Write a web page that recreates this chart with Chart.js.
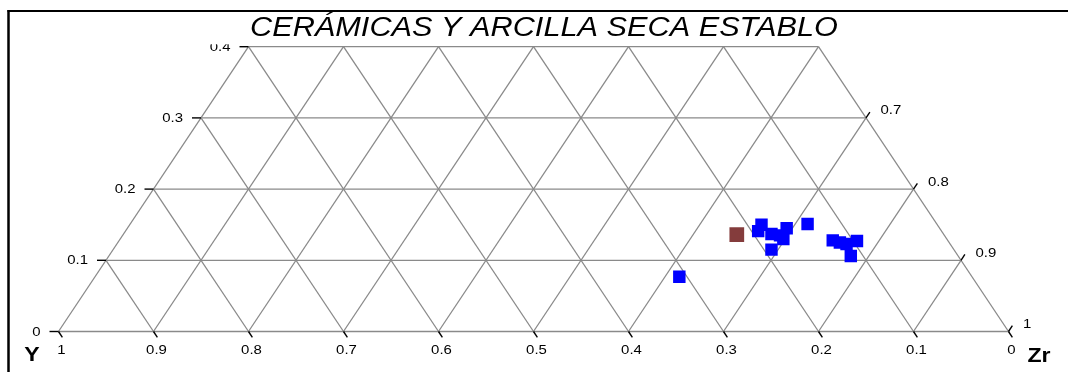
<!DOCTYPE html>
<html>
<head>
<meta charset="utf-8">
<script src="https://cdn.jsdelivr.net/npm/chart.js@4/dist/chart.umd.min.js"></script>
<style>
  html, body { margin: 0; padding: 0; background: #ffffff; }
  #wrap { width: 1068px; height: 372px; position: relative; }
</style>
</head>
<body>
<div id="wrap"><canvas id="c" width="1068" height="372"></canvas></div>
<script>
// Ternary diagram Y – Zr – (apex component), upper part truncated at 0.4
const chartTitle = 'CERÁMICAS Y ARCILLA SECA ESTABLO';
const gridSteps = [0, 0.1, 0.2, 0.3, 0.4, 0.5, 0.6, 0.7, 0.8, 0.9, 1];
const apexLevels = [0, 0.1, 0.2, 0.3, 0.4];
const leftTickLabels = ['0', '0.1', '0.2', '0.3', '0.4'];
const bottomTickLabels = ['1', '0.9', '0.8', '0.7', '0.6', '0.5', '0.4', '0.3', '0.2', '0.1', '0'];
const rightLevels = [0, 0.1, 0.2, 0.3];
const rightTickLabels = ['1', '0.9', '0.8', '0.7'];
const cornerLabels = ['Y', 'Zr'];

// Sample compositions (fractions)
const sampleY    = [0.308, 0.185, 0.193, 0.181, 0.173, 0.161, 0.172, 0.192, 0.136, 0.121, 0.115, 0.109, 0.096, 0.113];
const sampleZr   = [0.615, 0.665, 0.666, 0.682, 0.692, 0.694, 0.698, 0.693, 0.713, 0.751, 0.760, 0.768, 0.777, 0.781];
const sampleApex = [0.077, 0.150, 0.141, 0.137, 0.135, 0.145, 0.130, 0.115, 0.151, 0.128, 0.125, 0.123, 0.127, 0.106];

// Reference composition
const refY    = [0.218];
const refZr   = [0.646];
const refApex = [0.136];

// ternary -> cartesian (x along base, y = apex fraction)
function toCart(zr, apex) { return { x: zr + apex / 2, y: apex }; }
const samplePoints = sampleZr.map((z, i) => toCart(z, sampleApex[i]));
const refPoints = refZr.map((z, i) => toCart(z, refApex[i]));

const FONT = "Arial, 'Liberation Sans', sans-serif";
const TEXT_STRETCH = 1.15; // text in this figure is drawn slightly wide

// draw text widened horizontally around its anchor
function wideText(ctx, text, x, y, align, sx) {
  ctx.save();
  ctx.translate(x, y);
  ctx.scale(sx, 1);
  ctx.textAlign = align;
  ctx.fillText(text, 0, 0);
  ctx.restore();
}

const ternaryGrid = {
  id: 'ternaryGrid',
  beforeDatasetsDraw(chart) {
    const { ctx, scales: { x, y } } = chart;
    const P = (cx, cy) => [x.getPixelForValue(cx), y.getPixelForValue(cy)];
    const seg = (a, b) => { ctx.beginPath(); ctx.moveTo(a[0], a[1]); ctx.lineTo(b[0], b[1]); ctx.stroke(); };
    const top = apexLevels[apexLevels.length - 1];

    ctx.save();
    ctx.strokeStyle = '#8a8a8a';
    ctx.lineWidth = 1.3;
    // lines of constant apex fraction
    apexLevels.forEach(t => seg(P(t / 2, t), P(1 - t / 2, t)));
    // lines of constant Zr
    gridSteps.forEach(z => {
      const tEnd = Math.min(top, 1 - z);
      if (tEnd <= 0) return;
      seg(P(z, 0), P(z + tEnd / 2, tEnd));
    });
    // lines of constant Y
    gridSteps.forEach(v => {
      const tEnd = Math.min(top, 1 - v);
      if (tEnd <= 0) return;
      seg(P(1 - v, 0), P(1 - v - tEnd / 2, tEnd));
    });

    // ticks and labels
    ctx.strokeStyle = '#000000';
    ctx.lineWidth = 1.4;
    ctx.fillStyle = '#000000';
    ctx.font = '13px ' + FONT;
    ctx.textBaseline = 'middle';

    // left side
    apexLevels.forEach((t, i) => {
      const p = P(t / 2, t);
      seg([p[0] - 9, p[1]], p);
      wideText(ctx, leftTickLabels[i], p[0] - 18, p[1] + 0.5, 'right', TEXT_STRETCH);
    });

    // base: direction of the constant-Y lines, pointing below the base
    const cy0 = P(1, 0), cy1 = P(1 - 0.05, 0.1);
    let vx = cy0[0] - cy1[0], vy = cy0[1] - cy1[1];
    const vl = Math.hypot(vx, vy); vx /= vl; vy /= vl;
    gridSteps.forEach((z, i) => {
      const p = P(z, 0);
      seg(p, [p[0] + vx * 7, p[1] + vy * 7]);
      wideText(ctx, bottomTickLabels[i], p[0] + 3, p[1] + 19, 'center', TEXT_STRETCH);
    });

    // right side: direction of the constant-Zr lines beyond the edge
    const cz0 = P(0, 0), cz1 = P(0.05, 0.1);
    let wx = cz1[0] - cz0[0], wy = cz1[1] - cz0[1];
    const wl = Math.hypot(wx, wy); wx /= wl; wy /= wl;
    rightLevels.forEach((t, i) => {
      const p = P(1 - t / 2, t);
      seg(p, [p[0] + wx * 7, p[1] + wy * 7]);
      wideText(ctx, rightTickLabels[i], p[0] + 14.5, p[1] - 7, 'left', TEXT_STRETCH);
    });

    // corner names
    ctx.font = 'bold 21px ' + FONT;
    ctx.textBaseline = 'alphabetic';
    wideText(ctx, cornerLabels[0], 32, 361, 'center', 1.1);
    wideText(ctx, cornerLabels[1], 1039, 362, 'center', 1.1);
    ctx.restore();
  },
  afterDraw(chart) {
    const { ctx } = chart;
    ctx.save();
    // title band
    ctx.fillStyle = '#ffffff';
    ctx.fillRect(10, 12, 1058, 32.3);
    ctx.fillStyle = '#000000';
    ctx.font = 'italic 27px ' + FONT;
    ctx.textBaseline = 'alphabetic';
    const w = ctx.measureText(chartTitle).width;
    wideText(ctx, chartTitle, 544, 36, 'center', 588 / w);
    // frame
    ctx.strokeStyle = '#000000';
    ctx.lineWidth = 2;
    ctx.beginPath();
    ctx.moveTo(7.5, 11);
    ctx.lineTo(1068, 11);
    ctx.stroke();
    ctx.lineWidth = 2.5;
    ctx.beginPath();
    ctx.moveTo(8.5, 10);
    ctx.lineTo(8.5, 372);
    ctx.stroke();
    ctx.restore();
  }
};

new Chart(document.getElementById('c'), {
  type: 'scatter',
  data: {
    datasets: [
      {
        label: 'Muestras',
        data: samplePoints,
        pointStyle: 'rect',
        pointRadius: 8.8,
        pointHoverRadius: 8.8,
        backgroundColor: '#0000ff',
        borderColor: '#0000ff',
        borderWidth: 0
      },
      {
        label: 'Referencia',
        data: refPoints,
        pointStyle: 'rect',
        pointRadius: 10.4,
        pointHoverRadius: 10.4,
        backgroundColor: '#843c3c',
        borderColor: '#843c3c',
        borderWidth: 0
      }
    ]
  },
  options: {
    responsive: false,
    devicePixelRatio: 1,
    animation: false,
    events: [],
    layout: { padding: { left: 58.5, right: 59.5, top: 46.7, bottom: 40.5 } },
    scales: {
      x: { type: 'linear', min: 0, max: 1, display: false },
      y: { type: 'linear', min: 0, max: 0.4, display: false }
    },
    plugins: {
      legend: { display: false },
      title: { display: false },
      tooltip: { enabled: false }
    }
  },
  plugins: [ternaryGrid]
});
</script>
</body>
</html>
